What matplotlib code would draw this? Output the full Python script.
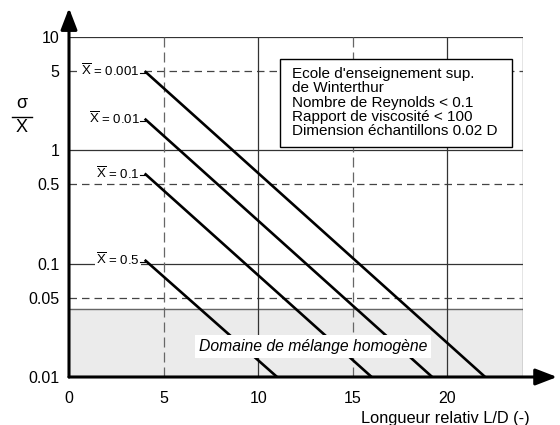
import matplotlib
matplotlib.use("Agg")
import matplotlib.pyplot as plt
import matplotlib.patches as mpatches

plt.rcParams["font.family"] = ["Liberation Sans", "DejaVu Sans"]
plt.rcParams["mathtext.fontset"] = "custom"
plt.rcParams["mathtext.rm"] = "Liberation Sans"
plt.rcParams["mathtext.it"] = "Liberation Sans:italic"

# ── Data: straight lines on log scale, start/end points per X̄ value ──────────
XBAR_LABELS = ["0.001", "0.01", "0.1", "0.5"]
LD_START = [4.0, 4.0, 4.0, 4.0]
LD_END = [22.0, 19.2, 16.0, 11.0]
SIGMA_START = [5.0, 1.9, 0.625, 0.108]
SIGMA_END = [0.01, 0.01, 0.01, 0.01]

X_TICKS = [0, 5, 10, 15, 20]
Y_TICKS = [0.01, 0.05, 0.1, 0.5, 1, 5, 10]
Y_TICK_LABELS = ["0.01", "0.05", "0.1", "0.5", "1", "5", "10"]
HOMOGENEOUS_LIMIT = 0.04
X_MAX = 24

fig = plt.figure(figsize=(5.6, 4.25), dpi=100)
ax = fig.add_axes([69 / 560, 48 / 425, 454 / 560, 340 / 425])
ax.set_yscale("log")
ax.set_xlim(0, X_MAX)
ax.set_ylim(0.01, 10)

# shaded "homogeneous" band
ax.axhspan(0.01, HOMOGENEOUS_LIMIT, color="#ebebeb", zorder=0)
ax.axhline(HOMOGENEOUS_LIMIT, color="#666666", lw=1.0, zorder=1)

# grid
for y in [10, 1, 0.1]:
    ax.axhline(y, color="#333333", lw=0.9, zorder=1)
for y in [5, 0.5, 0.05]:
    ax.axhline(y, color="#444444", lw=0.9, ls=(0, (6, 4)), zorder=1)
for x in [10, 20, X_MAX]:
    ax.axvline(x, color="#333333", lw=0.9, zorder=1)
for x in [5, 15]:
    ax.axvline(x, color="#666666", lw=0.9, ls=(0, (8, 4)), zorder=1)

# lines
for lab, x0, x1, y0, y1 in zip(XBAR_LABELS, LD_START, LD_END, SIGMA_START, SIGMA_END):
    ax.plot([x0, x1], [y0, y1], color="black", lw=1.9, zorder=3,
            solid_capstyle="butt")
    ax.plot([x0 - 0.25, x0], [y0 * 0.96, y0 * 0.96], color="black", lw=0.8, zorder=5)
    ax.text(x0 - 0.25, y0, r"$\overline{\mathrm{X}}$" + f" = {lab}",
            ha="right", va="center", fontsize=9.5, zorder=4,
            bbox=dict(boxstyle="square,pad=0.1", fc="white", ec="none"))

for s in ax.spines.values():
    s.set_visible(False)
ax.set_xticks(X_TICKS)
ax.set_xticklabels([str(v) for v in X_TICKS], fontsize=11.5)
ax.set_yticks(Y_TICKS)
ax.set_yticklabels(Y_TICK_LABELS, fontsize=11.5)
ax.yaxis.set_minor_locator(matplotlib.ticker.NullLocator())
ax.tick_params(axis="y", length=0, pad=7)
ax.tick_params(axis="x", length=0, pad=10)

# axes with arrows
ax.annotate("", xy=(1.075, 0), xytext=(0, 0), xycoords="axes fraction",
            arrowprops=dict(arrowstyle="-|>,head_length=1.3,head_width=0.5",
                            lw=2.2, color="black", shrinkA=0, shrinkB=0),
            annotation_clip=False, zorder=6)
ax.annotate("", xy=(0, 1.085), xytext=(0, 0), xycoords="axes fraction",
            arrowprops=dict(arrowstyle="-|>,head_length=1.3,head_width=0.5",
                            lw=2.2, color="black", shrinkA=0, shrinkB=0),
            annotation_clip=False, zorder=6)

# y label: sigma over X
fig.text(22 / 560, 1 - 104 / 425, "σ", ha="center", va="center", fontsize=13)
fig.add_artist(matplotlib.lines.Line2D([12 / 560, 32 / 560],
                                       [1 - 117 / 425, 1 - 117 / 425],
                                       color="black", lw=1.0))
fig.text(22 / 560, 1 - 128 / 425, "X", ha="center", va="center", fontsize=13)

# info box
ax.add_patch(mpatches.Rectangle((11.16, 1.08), 23.44 - 11.16, 6.38 - 1.08,
                                fc="white", ec="black", lw=1.0, zorder=6))
ax.text(11.8, 2.63,
        "Ecole d'enseignement sup.\nde Winterthur\nNombre de Reynolds < 0.1\n"
        "Rapport de viscosité < 100\nDimension échantillons 0.02 D",
        ha="left", va="center", fontsize=11, linespacing=1.03, zorder=7)

ax.text(12.9, 0.0185, "Domaine de mélange homogène", style="italic",
        ha="center", va="center", fontsize=11.3, zorder=6,
        bbox=dict(boxstyle="square,pad=0.25", fc="white", ec="none"))

fig.text(445 / 560, 1 - 418 / 425, "Longueur relativ L/D (-)",
         ha="center", va="center", fontsize=11.8)

fig.savefig("out.png", dpi=100)
